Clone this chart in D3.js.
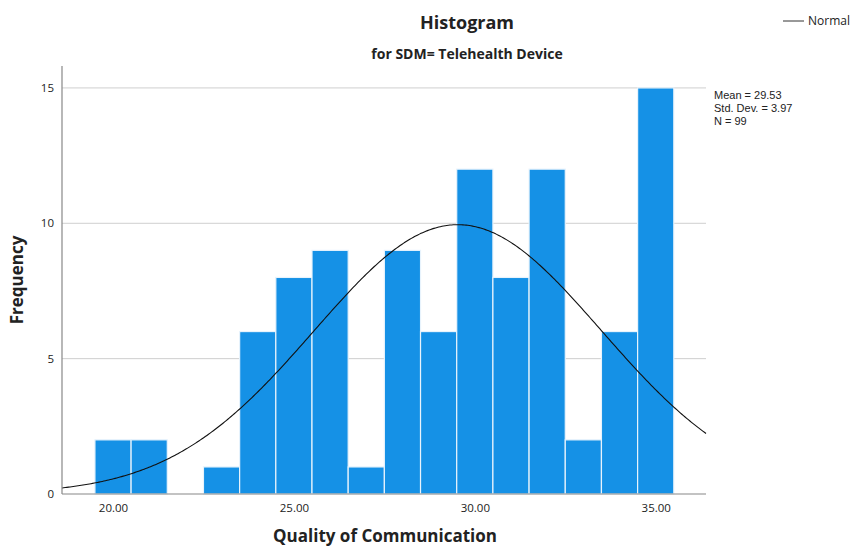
<!DOCTYPE html>
<html>
<head>
<meta charset="utf-8">
<script src="https://cdn.jsdelivr.net/npm/d3@7"></script>
<style>
  body { margin: 0; background: #fff; }
  text { font-family: "Open Sans", "DejaVu Sans", sans-serif; fill: #222; }
</style>
</head>
<body>
<div id="chart"></div>
<script>
// bin centres and counts
const bins = [20, 21, 22, 23, 24, 25, 26, 27, 28, 29, 30, 31, 32, 33, 34, 35];
const counts = [2, 2, 0, 1, 6, 8, 9, 1, 9, 6, 12, 8, 12, 2, 6, 15];
const xTicks = [20, 25, 30, 35];
const yTicks = [0, 5, 10, 15];
const mean = 29.53, sd = 3.97, n = 99;
const statLines = ["Mean = 29.53", "Std. Dev. = 3.97", "N = 99"];

const W = 851, H = 548;
let margin = {top: 66, right: 145, bottom: 54, left: 62},
    width = W - margin.left - margin.right,
    height = H - margin.top - margin.bottom;

const root = d3.select("#chart").append("svg")
  .attr("width", W).attr("height", H);
const svg = root.append("g")
  .attr("transform", "translate(" + margin.left + "," + margin.top + ")");

let x = d3.scaleLinear().domain([18.59, 36.39]).range([0, width]);
let y = d3.scaleLinear().domain([0, 15.81]).range([height, 0]);

// gridlines
svg.append("g")
  .selectAll("line")
  .data(yTicks.filter(d => d > 0))
  .enter().append("line")
    .attr("x1", 0).attr("x2", width)
    .attr("y1", d => y(d)).attr("y2", d => y(d))
    .style("stroke", "#cfcfcf").style("stroke-width", 1);

// bars
svg.append("g")
  .selectAll("rect")
  .data(bins.map((b, i) => ({b: b, c: counts[i]})).filter(d => d.c > 0))
  .enter().append("rect")
    .attr("x", d => x(d.b - 0.5))
    .attr("y", d => y(d.c))
    .attr("width", d => x(d.b + 0.5) - x(d.b - 0.5))
    .attr("height", d => y(0) - y(d.c))
    .style("fill", "#1591e6")
    .style("stroke", "#e8f3fc")
    .style("stroke-width", 1.2);

// normal curve
const scale = n * 1 / (sd * Math.sqrt(2 * Math.PI));
const xs = d3.range(0, 401).map(i => x.domain()[0] + (x.domain()[1] - x.domain()[0]) * i / 400);
svg.append("path")
  .datum(xs)
  .attr("d", d3.line()
    .x(d => x(d))
    .y(d => y(scale * Math.exp(-0.5 * Math.pow((d - mean) / sd, 2)))))
  .style("fill", "none")
  .style("stroke", "#111")
  .style("stroke-width", 1.1);

// axes
let xAxis = svg.append("g")
  .attr("transform", "translate(0," + height + ")")
  .call(d3.axisBottom(x).tickValues(xTicks).tickFormat(d3.format(".2f")).tickSize(0).tickPadding(10));
let yAxis = svg.append("g")
  .call(d3.axisLeft(y).tickValues(yTicks).tickSize(0).tickPadding(8));
[xAxis, yAxis].forEach(a => {
  a.select(".domain").style("stroke", "#888").style("stroke-width", 1.2);
  a.selectAll("text").style("font-size", "11.5px").style("fill", "#222")
    .style("font-family", "'Open Sans', sans-serif");
});
// y axis line extends to top of plot
yAxis.select(".domain").attr("d", "M0," + height + "V0");
xAxis.select(".domain").attr("d", "M0,0H" + width);

// titles
root.append("text")
  .attr("x", 467).attr("y", 29)
  .attr("text-anchor", "middle")
  .style("font-size", "18px").style("font-weight", "bold")
  .text("Histogram");
root.append("text")
  .attr("x", 467).attr("y", 59)
  .attr("text-anchor", "middle")
  .style("font-size", "14px").style("font-weight", "bold")
  .text("for SDM= Telehealth Device");

root.append("text")
  .attr("x", 385).attr("y", 542)
  .attr("text-anchor", "middle")
  .style("font-size", "17px").style("font-weight", "bold")
  .text("Quality of Communication");

root.append("text")
  .attr("transform", "translate(23,280) rotate(-90)")
  .attr("text-anchor", "middle")
  .style("font-size", "17px").style("font-weight", "bold")
  .text("Frequency");

// legend
root.append("line")
  .attr("x1", 783).attr("x2", 804).attr("y1", 21).attr("y2", 21)
  .style("stroke", "#333").style("stroke-width", 1);
root.append("text")
  .attr("x", 808).attr("y", 25)
  .style("font-size", "12px")
  .text("Normal");

// stats
root.append("g")
  .selectAll("text")
  .data(statLines)
  .enter().append("text")
    .attr("x", 714)
    .attr("y", (d, i) => 99 + i * 12.8)
    .style("font-size", "11px")
    .style("font-family", "'Liberation Sans', Arial, sans-serif")
    .text(d => d);
</script>
</body>
</html>
